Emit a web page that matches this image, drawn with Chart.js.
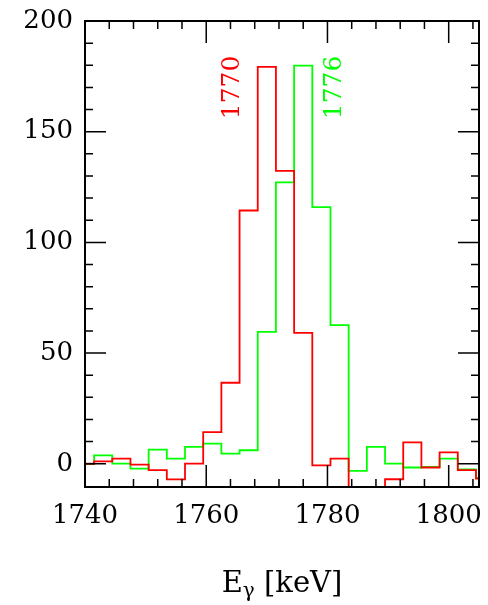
<!DOCTYPE html>
<html>
<head>
<meta charset="utf-8">
<script src="https://cdn.jsdelivr.net/npm/chart.js@4/dist/chart.umd.min.js"></script>
<style>
  body { margin: 0; background: #fff; }
  canvas { display: block; }
</style>
</head>
<body>
<canvas id="spec" width="488" height="605"></canvas>
<script>
// bin centres (keV), 3 keV bins
const binCenters = [1740, 1743, 1746, 1749, 1752, 1755, 1758, 1761, 1764, 1767, 1770, 1773,
                    1776, 1779, 1782, 1785, 1788, 1791, 1794, 1797, 1800, 1803, 1806];
const counts1770 = [0, 1.1, 2.3, -0.4, -2.9, -7.1, 0.1, 14.3, 36.6, 114.4, 179.3, 132.3,
                    59.1, -0.7, 2.3, -15, -15, -7, 9.7, -1.7, 5.1, -2.9, -6.7];
const counts1776 = [-0.2, 3.8, 0.1, -2.2, 6.4, 2.3, 7.6, 9.1, 4.6, 6.1, 59.6, 127.1,
                    179.8, 115.9, 62.6, -3.2, 7.6, 0.1, -1.7, -1.4, 2.3, -2.5, -6.4];
const xTicks = [1740, 1760, 1780, 1800];
const yTicks = [0, 50, 100, 150, 200];
const peakLabels = [
    { text: "1770", x: 1764.3, y: 170, color: "#ff0000" },
    { text: "1776", x: 1781.1, y: 170, color: "#00ff00" }
];

const FONT = "'DejaVu Serif', 'Liberation Serif', serif";

const framePlugin = {
    id: "frame",
    afterDraw(chart) {
        const ctx = chart.ctx;
        const a = chart.chartArea;
        const xs = chart.scales.x, ys = chart.scales.y;
        ctx.save();
        ctx.strokeStyle = "#000";
        ctx.lineWidth = 2;
        ctx.strokeRect(a.left, a.top, a.right - a.left, a.bottom - a.top);
        ctx.lineWidth = 1.5;
        ctx.beginPath();
        // x ticks, every 4 keV, long every 20
        for (let v = 1740; v <= 1805; v += 4) {
            const px = xs.getPixelForValue(v);
            if (px < a.left || px > a.right) continue;
            const len = (v % 20 === 0) ? 22 : 8;
            ctx.moveTo(px, a.bottom); ctx.lineTo(px, a.bottom - len);
            ctx.moveTo(px, a.top); ctx.lineTo(px, a.top + len);
        }
        // y ticks, every 10, long every 50
        for (let v = 0; v <= 200; v += 10) {
            const py = ys.getPixelForValue(v);
            const len = (v % 50 === 0) ? 21 : 8;
            ctx.moveTo(a.left, py); ctx.lineTo(a.left + len, py);
            ctx.moveTo(a.right, py); ctx.lineTo(a.right - len, py);
        }
        ctx.stroke();

        // rotated peak labels
        ctx.font = "25px " + FONT;
        ctx.textAlign = "center";
        ctx.textBaseline = "middle";
        peakLabels.forEach(l => {
            ctx.save();
            ctx.translate(xs.getPixelForValue(l.x), ys.getPixelForValue(l.y));
            ctx.rotate(-Math.PI / 2);
            ctx.fillStyle = l.color;
            ctx.fillText(l.text, 0, 0);
            ctx.restore();
        });

        // axis title: E_gamma [keV]
        ctx.fillStyle = "#000";
        ctx.textAlign = "left";
        ctx.textBaseline = "alphabetic";
        const big = "29px " + FONT, small = "20px " + FONT;
        ctx.font = big;
        const wE = ctx.measureText("E").width;
        const wR = ctx.measureText(" [keV]").width;
        ctx.font = small;
        const wG = ctx.measureText("\u03b3").width;
        const total = wE + wG + wR;
        let x0 = (a.left + a.right) / 2 - total / 2;
        const base = 592;
        ctx.font = big;
        ctx.fillText("E", x0, base);
        ctx.font = small;
        ctx.fillText("\u03b3", x0 + wE, base + 5);
        ctx.font = big;
        ctx.fillText(" [keV]", x0 + wE + wG, base);
        ctx.restore();
    }
};

new Chart(document.getElementById("spec"), {
    type: "line",
    data: {
        datasets: [
            {
                data: binCenters.map((x, i) => ({ x: x, y: counts1770[i] })),
                borderColor: "#ff0000",
                borderWidth: 1.8,
                stepped: "middle",
                pointRadius: 0,
                fill: false
            },
            {
                data: binCenters.map((x, i) => ({ x: x, y: counts1776[i] })),
                borderColor: "#00ff00",
                borderWidth: 1.8,
                stepped: "middle",
                pointRadius: 0,
                fill: false
            }
        ]
    },
    options: {
        responsive: false,
        devicePixelRatio: 1,
        animation: false,
        layout: { padding: { top: 21, right: 9, left: 0, bottom: 0 } },
        plugins: { legend: { display: false }, tooltip: { enabled: false } },
        scales: {
            x: {
                type: "linear",
                min: 1740,
                max: 1805,
                grid: { display: false, drawTicks: false },
                border: { display: false },
                afterBuildTicks: s => { s.ticks = xTicks.map(v => ({ value: v })); },
                afterFit: s => { s.height = 118; s.paddingLeft = 0; s.paddingRight = 0; },
                ticks: {
                    color: "#000",
                    font: { family: FONT, size: 26 },
                    padding: 14,
                    maxRotation: 0,
                    callback: v => String(v)
                }
            },
            y: {
                min: -10.5,
                max: 200,
                grid: { display: false, drawTicks: false },
                border: { display: false },
                afterBuildTicks: s => { s.ticks = yTicks.map(v => ({ value: v })); },
                afterFit: s => { s.width = 85; s.paddingTop = 0; s.paddingBottom = 0; },
                ticks: {
                    color: "#000",
                    font: { family: FONT, size: 26 },
                    padding: 12
                }
            }
        }
    },
    plugins: [framePlugin]
});
</script>
</body>
</html>
